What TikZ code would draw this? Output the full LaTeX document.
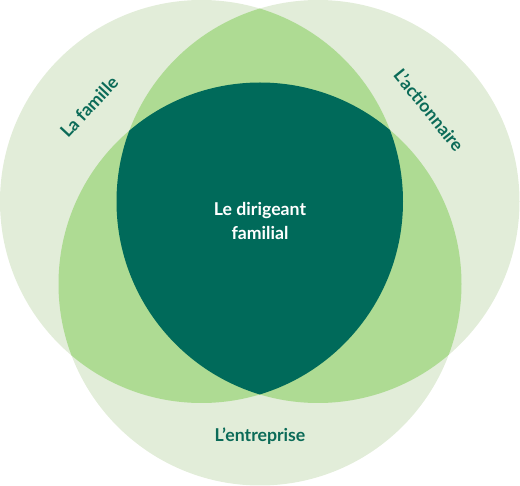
\documentclass[tikz,border=0pt]{standalone}
\usepackage{fontspec}
\setmainfont{Lato}[UprightFont=* Bold]
\definecolor{lightg}{HTML}{E2EDD9}
\definecolor{midg}{HTML}{AEDB93}
\definecolor{darkg}{HTML}{006A5A}
\definecolor{txtg}{HTML}{0B6B58}
\begin{document}
\begin{tikzpicture}[x=1pt,y=-1pt,
  lbl/.style={font=\fontsize{17.7}{21}\selectfont, text=txtg, inner sep=0pt},
  ctr/.style={font=\fontsize{17.7}{24}\selectfont, text=white, align=center, inner sep=0pt}]
\useasboundingbox (0,0) rectangle (520,486);
\def\rr{201.5}
\coordinate (cL) at (201.5,201.5);
\coordinate (cR) at (318,201.5);
\coordinate (cB) at (260,284);
\fill[lightg] (cL) circle (\rr);
\fill[lightg] (cR) circle (\rr);
\fill[lightg] (cB) circle (\rr);
\begin{scope}
  \clip (cL) circle (\rr);
  \fill[midg] (cR) circle (\rr);
  \fill[midg] (cB) circle (\rr);
\end{scope}
\begin{scope}
  \clip (cR) circle (\rr);
  \fill[midg] (cB) circle (\rr);
\end{scope}
\begin{scope}
  \clip (cL) circle (\rr);
  \clip (cR) circle (\rr);
  \fill[darkg] (cB) circle (\rr);
\end{scope}
\node[lbl, rotate=47] (fam) at (89,107) {La famille};
\node[lbl, rotate=-51] (act) at (429,110) {L’actionnaire};
\node[lbl, anchor=base] (ent) at (260,442) {L’entreprise};
\node[ctr, anchor=base] (dir) at (260,240) {Le dirigeant\\familial};
\end{tikzpicture}
\end{document}
